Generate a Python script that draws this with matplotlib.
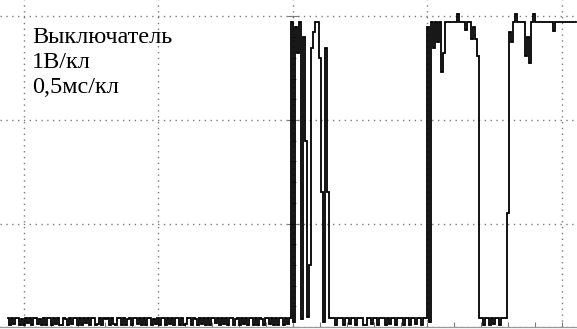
import numpy as np
import matplotlib
matplotlib.use("Agg")
import matplotlib.pyplot as plt
from matplotlib.ticker import MultipleLocator, NullFormatter

# ---- data (oscilloscope trace) ----
label_lines = ["Выключатель", "1В/кл", "0,5мс/кл"]
t_start_ms = -1.0595          # time of first sample, ms (0 = screen centre)
t_step_ms = 0.007435          # sample spacing, ms
ms_per_div = 0.5
volt_per_div = 1.0

# voltage samples in centivolts
noise_a = [9,2,9,3,9,9,2,8,2,9,4,9,2,9,9,3,8,2,9,2,
           9,9,2,9,3,9,2,2,9,8,2,9,3,9,9,2,9,2,9,4,
           9,2,9,9,2,3,9,2,9,8,9,2,9,3,2,9,9,2,9,2,
           8,9,2,9,9,3,9,2,9,2,9,9,2,8,3,9,2,9,9,2,
           9,3,9,2,9,9,2,9,2,3,9,9,2,9,8,2,9,3,9,2,
           9,2,9,9,4,9,2,9,3,9,2,9,9,2,8,9,2,9,3,9,
           2,9,9,2,9,2,9,8,2,9,9,3,9,2,9,2,9,9,2,9,
           3,9]
bounce_b = [295,5,290,265,295,8,280,180,10,60,270,285,295,295,260,130,5,270,130,9]
noise_c = [9,9,2,9,9,9,2,9,9,3,9,9,2,9,9,9,2,2,9,9,3,9,9,2,
           9,9,9,2,9,3,9,9,2,9,9,9,2,9,9,2,9,9,3,9,9,2,9,9]
pulse_d = [290,5,295,270,295,275,295,246,265,295,295,295,295,295,295,302,
           295,295,295,287,295,295,278,290,278,262]
noise_e = [9,9,2,9,9,2,9,3,9,9,2,9,9,9]
high_f = [110,285,275,295,302,295,295,295,295,262,280,255,295,302,295,295,
          295,295,295,295,295,295,295,286,295,295,295,295,295,295,295,295,
          295,295,295]

trace_cV = noise_a + bounce_b + noise_c + pulse_d + noise_e + high_f
volts = np.array(trace_cV) / 100.0
t = t_start_ms + t_step_ms * np.arange(len(volts))

# ---- figure ----
W, H = 577, 329
fig = plt.figure(figsize=(W / 100, H / 100), dpi=100)
ax = fig.add_axes([0, 2 / H, 1, 327 / H])
ax.set_xlim(-293 / 269, (577 - 293) / 269)
ax.set_ylim(0, 327 / 103.5)

grid_col = "#7a7a7a"
ax.xaxis.set_major_locator(MultipleLocator(ms_per_div))
ax.xaxis.set_minor_locator(MultipleLocator(ms_per_div / 5))
ax.yaxis.set_major_locator(MultipleLocator(volt_per_div))
ax.yaxis.set_minor_locator(MultipleLocator(volt_per_div / 5))
ax.xaxis.set_major_formatter(NullFormatter())
ax.yaxis.set_major_formatter(NullFormatter())

ax.grid(True, which="major", color=grid_col, linewidth=1.0,
        linestyle=(0, (1, 3.2)))

for s in ("top", "right"):
    ax.spines[s].set_visible(False)
ax.spines["left"].set_position(("data", 0))
ax.spines["left"].set_visible(False)
ax.spines["bottom"].set_color("#9a9a9a")
ax.spines["bottom"].set_linewidth(0.9)

ax.tick_params(axis="x", which="both", direction="in", length=3.6,
               width=0.8, color=grid_col)
ax.tick_params(axis="y", which="minor", direction="inout", length=3.6,
               width=0.8, color=grid_col)
ax.tick_params(axis="y", which="major", direction="inout", length=8,
               width=0.8, color=grid_col)

ax.plot(t, volts, color="black", linewidth=1.3, drawstyle="steps-mid",
        solid_joinstyle="miter")

baselines = [43, 68.5, 93]
for txt, yb in zip(label_lines, baselines):
    fig.text(32 / W, 1 - yb / H, txt, family="Liberation Serif",
             fontsize=17.5, va="baseline", ha="left", color="black")

fig.savefig("out.png", dpi=100)
